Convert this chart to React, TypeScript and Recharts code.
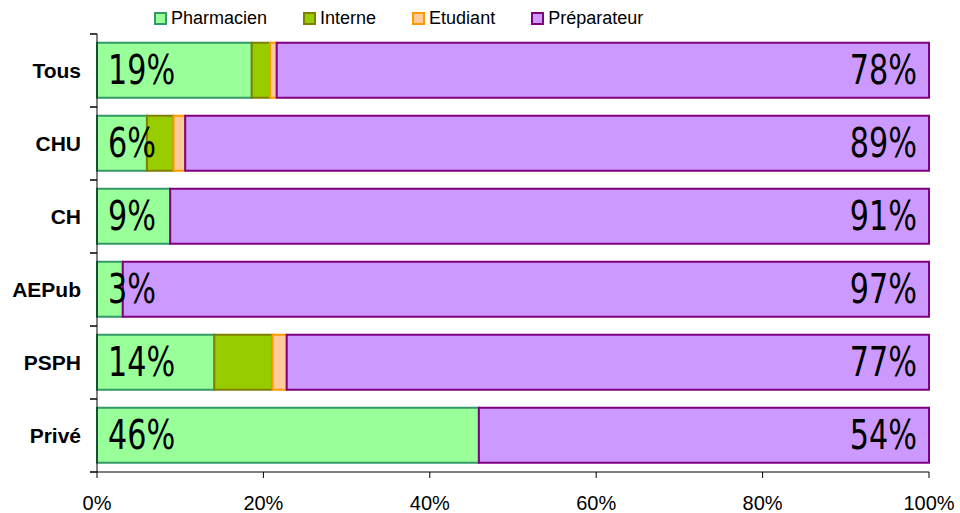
import { Bar, BarChart, LabelList, Legend, XAxis, YAxis, usePlotArea } from 'recharts';

const categories = ['Tous', 'CHU', 'CH', 'AEPub', 'PSPH', 'Privé'];
const pharmacien = [18.6, 6.0, 8.8, 3.1, 14.1, 45.9];
const interne = [2.2, 3.2, 0, 0, 7.0, 0];
const etudiant = [0.8, 1.4, 0, 0, 1.7, 0];
const preparateur = [78.4, 89.4, 91.2, 96.9, 77.2, 54.1];
const xTicks = [0, 20, 40, 60, 80, 100];

const series = [
    { key: 'pharmacien', name: 'Pharmacien', fill: '#99FF99', stroke: '#339966' },
    { key: 'interne', name: 'Interne', fill: '#99CC00', stroke: '#808000' },
    { key: 'etudiant', name: 'Etudiant', fill: '#FFCC99', stroke: '#FF9900' },
    { key: 'preparateur', name: 'Préparateur', fill: '#CC99FF', stroke: '#800080' }
];

const data = categories.map((name, i) => ({
    name,
    pharmacien: pharmacien[i],
    interne: interne[i],
    etudiant: etudiant[i],
    preparateur: preparateur[i]
}));

const font = 'Arial, "Liberation Sans", sans-serif';
const labelFont = '"DejaVu Sans Condensed", sans-serif';
const pct = (v: any) => `${Math.round(Number(v))}%`;

function LegendBox() {
    return (
        <div style={{ display: 'flex', alignItems: 'center', fontFamily: font, fontSize: 18, color: '#000' }}>
            {series.map((s) => (
                <div key={s.key} style={{ display: 'flex', alignItems: 'center', marginRight: 36 }}>
                    <span
                        style={{
                            display: 'inline-block',
                            width: 9,
                            height: 9,
                            background: s.fill,
                            border: `2px solid ${s.stroke}`,
                            marginRight: 4
                        }}
                    />
                    <span>{s.name}</span>
                </div>
            ))}
        </div>
    );
}

// big condensed percentage, squeezed horizontally to match the narrow original font
function makeLabel(side: 'left' | 'right') {
    return (props: any) => {
        const { x, y, width, height, value } = props;
        const tx = side === 'left' ? Number(x) + 11 : Number(x) + Number(width) - 12;
        const ty = Number(y) + Number(height) / 2;
        return (
            <text
                transform={`translate(${tx},${ty}) scale(0.82,1)`}
                textAnchor={side === 'left' ? 'start' : 'end'}
                dominantBaseline="central"
                fill="#000"
                fontSize={41}
                fontFamily={labelFont}
            >
                {pct(value)}
            </text>
        );
    };
}

// excel-style tick marks between the categories on the y axis
function BandTicks() {
    const area = usePlotArea();
    if (!area) return null;
    const step = area.height / categories.length;
    return (
        <g>
            {Array.from({ length: categories.length + 1 }, (_, i) => (
                <line
                    key={i}
                    x1={area.x - 7}
                    x2={area.x}
                    y1={area.y + i * step}
                    y2={area.y + i * step}
                    stroke="#000"
                    strokeWidth={1.5}
                />
            ))}
        </g>
    );
}

export default function App() {
    return (
        <div style={{ position: 'absolute', left: 0, top: 0, background: '#fff' }}>
            <BarChart
                width={960}
                height={513}
                data={data}
                layout="vertical"
                margin={{ top: 10, right: 31, left: 0, bottom: 0 }}
                barCategoryGap="12%"
            >
                <Legend
                    verticalAlign="top"
                    align="left"
                    height={24}
                    content={() => <LegendBox />}
                    wrapperStyle={{ top: 8, left: 154, width: 'auto' }}
                />
                <XAxis
                    type="number"
                    domain={[0, 100]}
                    ticks={xTicks}
                    tickFormatter={(v) => `${v}%`}
                    tickSize={6}
                    tickMargin={18}
                    height={41}
                    interval={0}
                    axisLine={{ stroke: '#000' }}
                    tickLine={{ stroke: '#000' }}
                    tick={{ fill: '#000', fontSize: 20, fontFamily: font }}
                />
                <YAxis
                    type="category"
                    dataKey="name"
                    width={97}
                    tickSize={0}
                    tickMargin={16}
                    axisLine={{ stroke: '#000' }}
                    tickLine={false}
                    tick={{ fill: '#000', fontSize: 21, fontWeight: 'bold', fontFamily: font }}
                />
                {series.map((s) => (
                    <Bar
                        key={s.key}
                        dataKey={s.key}
                        name={s.name}
                        stackId="a"
                        fill={s.fill}
                        stroke={s.stroke}
                        strokeWidth={2}
                        isAnimationActive={false}
                    >
                        {s.key === 'pharmacien' && (
                            <LabelList dataKey="pharmacien" content={makeLabel('left')} />
                        )}
                        {s.key === 'preparateur' && (
                            <LabelList dataKey="preparateur" content={makeLabel('right')} />
                        )}
                    </Bar>
                ))}
                <BandTicks />
            </BarChart>
        </div>
    );
}
